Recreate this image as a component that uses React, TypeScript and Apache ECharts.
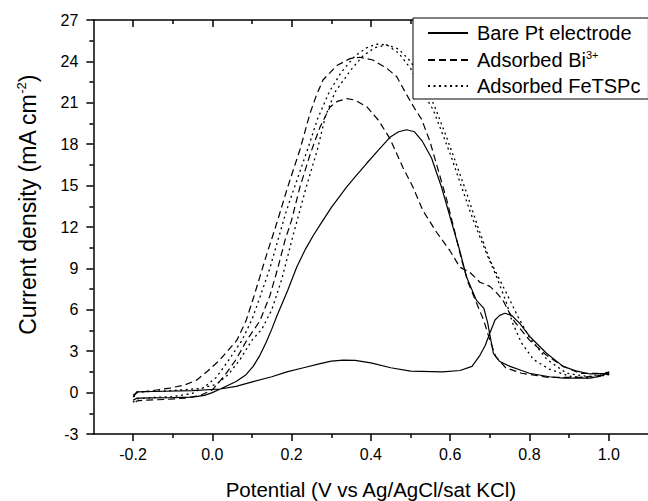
import React, { useEffect, useRef } from "react";
import * as echarts from "echarts";

const FONT = "'Liberation Sans', Arial, Helvetica, sans-serif";

// Tick positions / labels
const xMajorTicks = [-0.2, 0.0, 0.2, 0.4, 0.6, 0.8, 1.0];
const xMinorTicks = [-0.1, 0.1, 0.3, 0.5, 0.7, 0.9];

// Series names
const seriesNames = ["Bare Pt electrode", "Adsorbed Bi3+", "Adsorbed FeTSPc"];

// Bare Pt electrode (solid): [potential V, current density mA cm^-2], full CV loop
const bareCurve: [number, number][] = [
  [-0.2, -0.55], [-0.19, -0.4], [-0.15, -0.38], [-0.1, -0.37], [-0.05, -0.33], [-0.02, -0.2],
  [0.0, 0.0], [0.02, 0.26], [0.06, 0.8], [0.085, 1.3], [0.103, 1.9], [0.12, 2.7], [0.135, 3.6],
  [0.15, 4.6], [0.162, 5.5], [0.19, 7.4], [0.213, 9.1], [0.235, 10.4], [0.255, 11.4], [0.275, 12.3],
  [0.3, 13.4], [0.339, 14.9], [0.365, 15.8], [0.389, 16.6], [0.42, 17.6], [0.448, 18.5], [0.47, 18.9],
  [0.49, 19.05], [0.51, 18.9], [0.53, 18.2], [0.553, 17.0], [0.578, 14.9], [0.603, 12.4], [0.624, 10.3],
  [0.641, 8.4], [0.666, 6.7], [0.685, 6.1], [0.695, 5.0], [0.7, 4.2], [0.709, 2.85], [0.725, 2.25],
  [0.751, 1.9], [0.78, 1.6], [0.8, 1.4], [0.85, 1.15], [0.885, 1.05], [0.952, 1.05], [0.98, 1.2], [1.0, 1.5],
  [1.0, 1.4], [0.952, 1.35], [0.92, 1.55], [0.885, 1.9], [0.843, 2.85], [0.801, 4.05], [0.776, 5.0],
  [0.755, 5.6], [0.738, 5.75], [0.725, 5.6], [0.713, 5.26], [0.7, 4.3], [0.688, 3.4], [0.675, 2.7],
  [0.655, 1.9], [0.625, 1.6], [0.58, 1.5], [0.5, 1.55], [0.45, 1.8], [0.4, 2.15], [0.36, 2.33],
  [0.33, 2.35], [0.3, 2.28], [0.272, 2.1], [0.23, 1.8], [0.188, 1.5], [0.15, 1.15], [0.103, 0.8],
  [0.06, 0.45], [0.02, 0.26], [-0.05, 0.15], [-0.15, 0.08], [-0.19, 0.05], [-0.2, -0.2],
];

// Adsorbed Bi3+ (dashed)
const biCurve: [number, number][] = [
  [-0.2, -0.3], [-0.19, 0.0], [-0.15, 0.15], [-0.107, 0.33], [-0.07, 0.55], [-0.04, 0.9], [-0.01, 1.6],
  [0.02, 2.4], [0.062, 3.8], [0.085, 5.2], [0.103, 6.8], [0.12, 8.4], [0.137, 10.0], [0.165, 12.5],
  [0.188, 14.7], [0.205, 16.2], [0.221, 17.6], [0.246, 20.2], [0.262, 21.5], [0.279, 22.65], [0.314, 23.7],
  [0.347, 24.2], [0.372, 24.3], [0.405, 24.1], [0.44, 23.5], [0.465, 22.9], [0.49, 21.6], [0.51, 20.6],
  [0.528, 19.8], [0.549, 18.2], [0.57, 16.1], [0.591, 14.0], [0.612, 11.6], [0.629, 9.6], [0.645, 8.0],
  [0.665, 6.6], [0.685, 5.2], [0.7, 3.8], [0.715, 2.6], [0.74, 1.8], [0.78, 1.4], [0.85, 1.1], [0.93, 1.1],
  [1.0, 1.3],
  [0.97, 1.4], [0.927, 1.4], [0.885, 1.9], [0.843, 2.7], [0.8, 3.8], [0.758, 5.3], [0.733, 6.7],
  [0.715, 7.3], [0.7, 7.7], [0.675, 8.0], [0.65, 8.7], [0.624, 9.1], [0.599, 10.3], [0.566, 11.6],
  [0.531, 13.2], [0.506, 14.9], [0.481, 16.3], [0.448, 18.4], [0.42, 19.7], [0.39, 20.7], [0.36, 21.2],
  [0.339, 21.3], [0.315, 21.1], [0.297, 20.7], [0.271, 19.2], [0.246, 17.2], [0.221, 14.9], [0.2, 12.5],
  [0.184, 11.1], [0.165, 9.0], [0.145, 7.0], [0.12, 5.2], [0.087, 3.8], [0.06, 2.4], [0.03, 1.2],
  [0.0, 0.2], [-0.03, -0.2], [-0.07, -0.4], [-0.12, -0.5], [-0.17, -0.55], [-0.19, -0.6], [-0.2, -0.9],
];

// Adsorbed FeTSPc (dotted)
const fetCurve: [number, number][] = [
  [-0.2, -0.7], [-0.19, -0.45], [-0.15, -0.35], [-0.1, -0.3], [-0.05, -0.05], [-0.02, 0.4], [0.01, 1.1],
  [0.04, 2.3], [0.075, 3.8], [0.1, 5.3], [0.12, 6.9], [0.145, 9.0], [0.166, 11.1], [0.185, 13.0],
  [0.205, 14.7], [0.24, 17.6], [0.265, 19.8], [0.295, 21.8], [0.325, 23.2], [0.36, 24.4], [0.39, 25.0],
  [0.415, 25.25], [0.44, 25.2], [0.47, 24.6], [0.5, 23.5], [0.53, 21.8], [0.557, 20.5], [0.58, 18.8],
  [0.6, 17.3], [0.63, 14.8], [0.658, 12.5], [0.69, 10.2], [0.717, 8.4], [0.742, 6.5], [0.758, 5.0],
  [0.78, 3.6], [0.81, 2.4], [0.85, 1.7], [0.9, 1.2], [0.95, 1.05], [1.0, 1.3],
  [1.0, 1.5], [0.95, 1.15], [0.894, 1.4], [0.844, 2.4], [0.8, 4.0], [0.771, 5.5], [0.742, 7.2],
  [0.7, 9.6], [0.67, 12.0], [0.641, 14.5], [0.615, 16.6], [0.591, 18.5], [0.56, 20.8], [0.53, 22.6],
  [0.5, 24.0], [0.47, 24.9], [0.44, 25.2], [0.41, 25.0], [0.38, 24.4], [0.35, 23.4], [0.31, 21.8],
  [0.285, 20.0], [0.265, 17.6], [0.235, 14.7], [0.201, 11.1], [0.175, 8.2], [0.15, 6.0], [0.125, 4.6],
  [0.1, 3.8], [0.07, 2.4], [0.04, 1.3], [0.01, 0.6], [-0.03, 0.3], [-0.1, 0.15], [-0.19, 0.05], [-0.2, -0.4],
];

const App: React.FC = () => {
  const ref = useRef<HTMLDivElement>(null);

  useEffect(() => {
    if (!ref.current) return;
    const chart = echarts.init(ref.current, undefined, { renderer: "svg" });
    const black = "#000";
    const axisLineStyle = { color: black, width: 1.5 };
    const baseX = {
      type: "value" as const,
      min: -0.3,
      max: 1.1,
      gridIndex: 0,
      splitLine: { show: false },
    };
    const option: any = {
      animation: false,
      backgroundColor: "#fff",
      textStyle: { fontFamily: FONT, color: black },
      grid: {
        left: 93.4,
        top: 20,
        width: 555,
        height: 414,
        containLabel: false,
        outerBoundsMode: "none",
      },
      legend: {
        orient: "vertical",
        left: 413,
        top: 18,
        backgroundColor: "#fff",
        borderColor: black,
        borderWidth: 1,
        borderRadius: 0,
        padding: [5, 8, 3, 14],
        itemWidth: 40,
        itemHeight: 14,
        itemGap: 6,
        selectedMode: false,
        data: seriesNames,
        itemStyle: { color: "rgba(0,0,0,0)", borderWidth: 0, opacity: 0 },
        formatter: (name: string) =>
          name === "Adsorbed Bi3+" ? "{a|Adsorbed Bi}{s|3+}" : "{a|" + name + "}",
        textStyle: {
          fontSize: 20,
          color: black,
          fontFamily: FONT,
          padding: [0, 0, 0, 4],
          rich: {
            a: { fontSize: 20, color: black, fontFamily: FONT, lineHeight: 22 },
            s: { fontSize: 11, color: black, fontFamily: FONT, lineHeight: 11, verticalAlign: "top" },
          },
        },
      },
      xAxis: [
        {
          ...baseX,
          position: "bottom",
          axisLine: { show: true, onZero: false, lineStyle: axisLineStyle },
          axisTick: { show: true, inside: false, length: 7, lineStyle: axisLineStyle, customValues: xMajorTicks },
          axisLabel: {
            show: true,
            customValues: xMajorTicks,
            formatter: (v: number) => v.toFixed(1),
            fontSize: 16,
            color: black,
            fontFamily: FONT,
            margin: 12,
          },
          name: "Potential (V vs Ag/AgCl/sat KCl)",
          nameLocation: "middle",
          nameGap: 45,
          nameTextStyle: { fontSize: 20.5, color: black, fontFamily: FONT },
        },
        {
          ...baseX,
          position: "bottom",
          axisLine: { show: false, onZero: false },
          axisTick: { show: true, inside: false, length: 4, lineStyle: axisLineStyle, customValues: xMinorTicks },
          axisLabel: { show: false },
        },
        {
          ...baseX,
          position: "top",
          axisLine: { show: true, onZero: false, lineStyle: axisLineStyle },
          axisTick: { show: true, inside: true, length: 7, lineStyle: axisLineStyle, customValues: xMajorTicks },
          axisLabel: { show: false },
        },
        {
          ...baseX,
          position: "top",
          axisLine: { show: false, onZero: false },
          axisTick: { show: true, inside: true, length: 4, lineStyle: axisLineStyle, customValues: xMinorTicks },
          axisLabel: { show: false },
        },
      ],
      yAxis: {
        type: "value",
        min: -3,
        max: 27,
        interval: 3,
        position: "left",
        axisLine: { show: true, onZero: false, lineStyle: axisLineStyle },
        axisTick: { show: true, inside: false, length: 7, lineStyle: axisLineStyle },
        minorTick: { show: true, splitNumber: 2, length: 4, lineStyle: axisLineStyle },
        splitLine: { show: false },
        minorSplitLine: { show: false },
        axisLabel: { fontSize: 16, color: black, fontFamily: FONT, margin: 15 },
        name: "{a|Current density (mA cm}{s|-2}{a|)}",
        nameLocation: "middle",
        nameGap: 52,
        nameTextStyle: {
          fontSize: 23,
          color: black,
          fontFamily: FONT,
          padding: [0, 0, 0, 44],
          rich: {
            a: { fontSize: 23, color: black, fontFamily: FONT, lineHeight: 26 },
            s: { fontSize: 13, color: black, fontFamily: FONT, lineHeight: 13, verticalAlign: "top" },
          },
        },
      },
      series: [
        {
          name: seriesNames[0],
          type: "line",
          xAxisIndex: 0,
          data: bareCurve,
          symbol: "none",
          showSymbol: false,
          lineStyle: { color: black, width: 1.2, type: "solid" },
          itemStyle: { color: black },
        },
        {
          name: seriesNames[1],
          type: "line",
          xAxisIndex: 0,
          data: biCurve,
          symbol: "none",
          showSymbol: false,
          lineStyle: { color: black, width: 1.2, type: [7, 4] },
          itemStyle: { color: black },
        },
        {
          name: seriesNames[2],
          type: "line",
          xAxisIndex: 0,
          data: fetCurve,
          symbol: "none",
          showSymbol: false,
          lineStyle: { color: black, width: 1.3, type: [2, 3.5] },
          itemStyle: { color: black },
        },
      ],
    };
    chart.setOption(option);
    return () => chart.dispose();
  }, []);

  return (
    <div
      ref={ref}
      style={{ position: "absolute", left: 0, top: 0, width: 648, height: 501, background: "#fff" }}
    />
  );
};

export default App;
